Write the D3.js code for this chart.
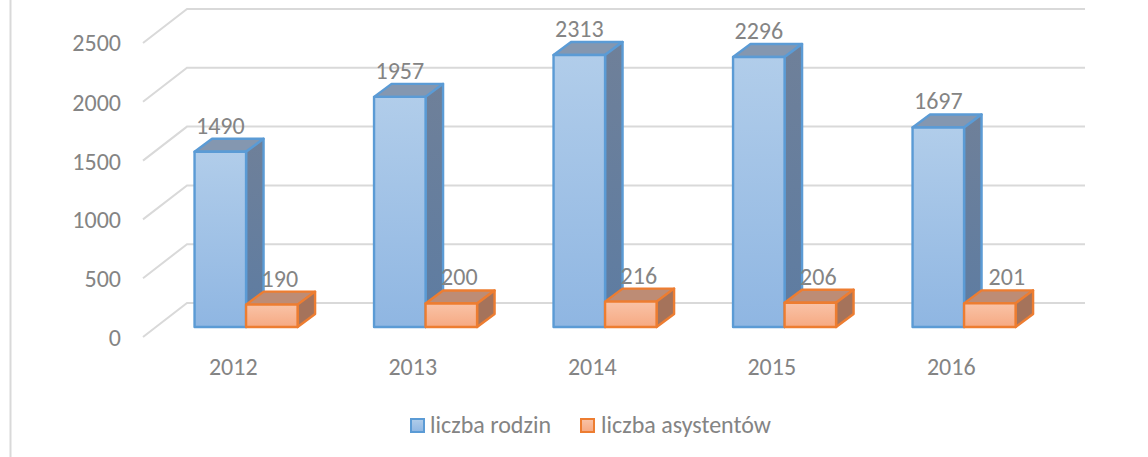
<!DOCTYPE html>
<html><head><meta charset="utf-8">
<script src="https://cdn.jsdelivr.net/npm/d3@7/dist/d3.min.js"></script>
<style>html,body{margin:0;background:#fff}svg{display:block}text{font-family:Carlito,Lato,sans-serif;fill:#848484;font-size:24px}</style>
</head><body><div id="c"></div>
<script>
const years=["2012","2013","2014","2015","2016"];
const rodzin=[1490,1957,2313,2296,1697];
const asystentow=[190,200,216,206,201];
const ticks=[0,500,1000,1500,2000,2500];
const seriesNames=["liczba rodzin","liczba asystentów"];
const labelNudge=[0,0,0,0,9];

const W=1148,H=457;
const svg=d3.select("#c").append("svg").attr("width",W).attr("height",H);
const defs=svg.append("defs");
function grad(id,a,b){const g=defs.append("linearGradient").attr("id",id).attr("x1",0).attr("x2",0).attr("y1",0).attr("y2",1);
 g.append("stop").attr("offset",0).attr("stop-color",a);g.append("stop").attr("offset",1).attr("stop-color",b);}
grad("bf","#b1cdea","#8fb6e2");grad("bs","#6f8099","#5d7ca2");
grad("of","#f9c3a7","#f6a982");grad("os","#a5735b","#a5735b");

svg.append("line").attr("x1",10.5).attr("x2",10.5).attr("y1",0).attr("y2",457).attr("stroke","#d9d9d9").attr("stroke-width",2);

const yA=d3.scaleLinear().domain([0,2500]).range([337,43]);
const x=d3.scaleBand().domain(years).range([143.5,1041]);
const wallDx=44,wallDy=-34, barDx=17.5,barDy=-13, floor=-10;

ticks.forEach(t=>{
 const y=yA(t);
 svg.append("path").attr("fill","none").attr("stroke","#d9d9d9").attr("stroke-width",2)
  .attr("d",d3.line()([[143,y],[143+wallDx,y+wallDy],[1085,y+wallDy]]));
 svg.append("text").attr("x",121).attr("y",y+8+(t/2500<1?1:0)).attr("text-anchor","end").text(t);
});
years.forEach(yr=>{
 svg.append("text").attr("x",x(yr)+x.bandwidth()/2).attr("y",375).attr("text-anchor","middle").text(yr);
});

function bar(x0,w,v,c,f,s){
 const yTop=yA(v)+floor, yBot=yA(0)+floor;
 const g=svg.append("g").attr("stroke",c).attr("stroke-width",2.4).attr("stroke-linejoin","round");
 g.append("path").attr("fill",f==="bf"?"#8497b0":"#bd8c75")
  .attr("d",d3.line()([[x0,yTop],[x0+barDx,yTop+barDy],[x0+w+barDx,yTop+barDy],[x0+w,yTop]])+"Z");
 g.append("path").attr("fill",`url(#${s})`)
  .attr("d",d3.line()([[x0+w,yTop],[x0+w+barDx,yTop+barDy],[x0+w+barDx,yBot+barDy],[x0+w,yBot]])+"Z");
 g.append("rect").attr("x",x0).attr("y",yTop).attr("width",w).attr("height",yBot-yTop).attr("fill",`url(#${f})`);
}
const barW=x.bandwidth()*0.287;
years.forEach((yr,i)=>{
 const x0=x(yr)+x.bandwidth()/2-38.7;
 bar(x0,barW,rodzin[i],"#5b9bd5","bf","bs");
 bar(x0+barW,barW,asystentow[i],"#ed7d31","of","os");
 svg.append("text").attr("x",x0+barW/2).attr("y",yA(rodzin[i])+floor+barDy-5).attr("text-anchor","middle").text(rodzin[i]);
 svg.append("text").attr("x",x0+barW*1.5+8+labelNudge[i]).attr("y",yA(asystentow[i])+floor+barDy-5).attr("text-anchor","middle").text(asystentow[i]);
});

const lx=[411,581],cols=[["#5b9bd5","bf"],["#ed7d31","of"]];
seriesNames.forEach((n,i)=>{
 svg.append("rect").attr("x",lx[i]).attr("y",419).attr("width",13).attr("height",13)
  .attr("fill",`url(#${cols[i][1]})`).attr("stroke",cols[i][0]).attr("stroke-width",2);
 svg.append("text").attr("x",lx[i]+19+i).attr("y",433).text(n);
});
</script></body></html>
